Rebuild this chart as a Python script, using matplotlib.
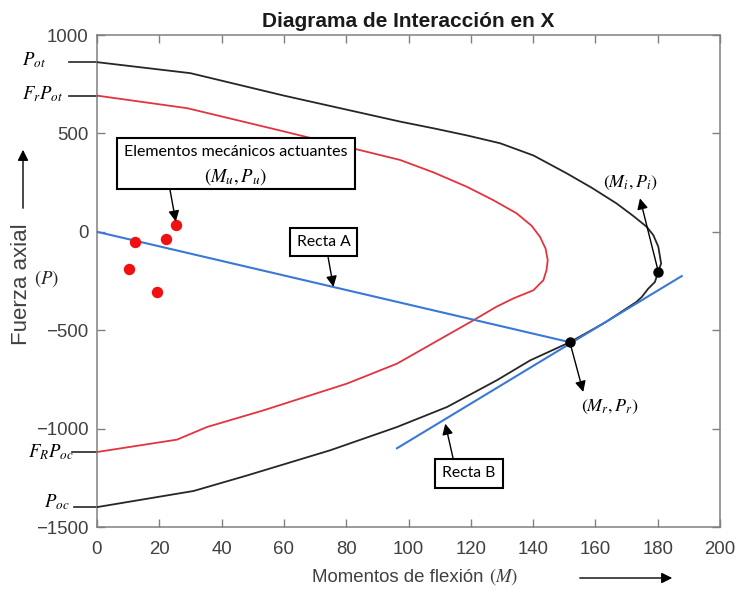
import matplotlib
matplotlib.use("Agg")
import matplotlib.pyplot as plt
import matplotlib.transforms as mtransforms
from matplotlib.patches import Rectangle, FancyArrowPatch

plt.rcParams['font.family'] = ['Liberation Sans', 'DejaVu Sans']
plt.rcParams['mathtext.fontset'] = 'stix'

# ---- data -------------------------------------------------------------
# nominal interaction curve (M, P)
nominal_m = [0, 30, 60, 97.3, 108, 118.7, 129.4, 140.1, 150.8, 158.8, 166.8,
             172.2, 176.5, 178.6, 180.2, 181.1, 180.2, 179.1, 176.9, 174.9,
             173.2, 163, 151.8, 139.1, 128.4, 112.4, 96.3, 74.9, 48.2, 31, 0]
nominal_p = [862, 806, 692, 560, 526, 490, 450, 388, 297, 224, 144,
             80, 25, -17, -76, -161, -203, -255, -290, -331,
             -356, -462, -561, -653, -754, -890, -992, -1110, -1238, -1317, -1399]

# reduced (design) interaction curve
design_m = [0, 29, 60, 97.3, 108, 118.7, 127.2, 134.7, 139.5, 142.2, 144.0,
            144.7, 144.3, 143.3, 140.1, 133.6, 128.2, 120.9, 96.3, 80.3, 53.5,
            35.3, 25.7, 0]
design_p = [692, 628, 510, 365, 302, 229, 161, 94, 31, -25, -85,
            -144, -195, -246, -297, -339, -381, -449, -670, -771, -907,
            -992, -1056, -1119]

# acting loads
demand_m = [25.3, 22.1, 12.2, 10.4, 19.2]
demand_p = [33, -37, -51, -190, -308]

# characteristic points
mi, pi = 180.2, -203
mr, pr = 151.8, -561

# straight lines
recta_a_m = [0, mr]
recta_a_p = [0, pr]
recta_b_m = [96.3, 187.7]
recta_b_p = [-1100, -225]

x_ticks = [0, 20, 40, 60, 80, 100, 120, 140, 160, 180, 200]
y_ticks = [-1500, -1000, -500, 0, 500, 1000]

black = '#262626'
red = '#e2343f'
blue = '#3b78d6'
grey_txt = '#404040'
spine_c = '#808080'

# ---- figure -----------------------------------------------------------
W, H = 735, 590
fig = plt.figure(figsize=(W / 100, H / 100), dpi=100)
ax = fig.add_axes([97 / W, 1 - 527 / H, (720 - 97) / W, (527 - 35) / H])


def fx(px):
    return px / W


def fy(py):
    return 1 - py / H


ax.plot(nominal_m, nominal_p, color=black, lw=1.3, zorder=3)
ax.plot(design_m, design_p, color=red, lw=1.3, zorder=3)
ax.plot(recta_a_m, recta_a_p, color=blue, lw=1.5, zorder=4)
ax.plot(recta_b_m, recta_b_p, color=blue, lw=1.5, zorder=4)
ax.plot(demand_m, demand_p, 'o', color='#f01010', ms=8.2, mec='none', zorder=5)
ax.plot([mi, mr], [pi, pr], 'o', color='black', ms=7.5, mec='none', zorder=6)

ax.set_xlim(x_ticks[0], x_ticks[-1])
ax.set_ylim(y_ticks[0], y_ticks[-1])
ax.set_xticks(x_ticks)
ax.set_yticks(y_ticks)
ax.tick_params(direction='in', length=6, width=1, color=spine_c,
               labelsize=13.4, labelcolor=grey_txt, top=True, right=True)
ax.tick_params(axis='x', pad=10)
ax.tick_params(axis='y', pad=6)
for s in ax.spines.values():
    s.set_color(spine_c)
    s.set_linewidth(1.1)

# ---- annotations ------------------------------------------------------
arrow = dict(arrowstyle='-|>', color='black', lw=1.0, mutation_scale=16,
             shrinkA=0, shrinkB=0)
box = dict(boxstyle='square,pad=0.45', fc='white', ec='black', lw=1.5)
box_font = ['Lato', 'DejaVu Sans']

# box for the acting loads
ax.add_patch(Rectangle((6.4, 216), 82.8 - 6.4, 475 - 216, fc='white',
                       ec='black', lw=1.5, zorder=8))
ax.text(44.6, 404, 'Elementos mecánicos actuantes', ha='center', va='center',
        fontsize=11.5, family=box_font, zorder=9)
ax.text(44.6, 282, '$(M_u, P_u)$', ha='center', va='center', fontsize=13.5,
        zorder=9)
ax.annotate('', xy=(25.3, 52), xytext=(23.4, 216), arrowprops=arrow, zorder=7)

ax.annotate('', xy=(75.9, -280), xytext=(74.2, -130), arrowprops=arrow, zorder=7)
ax.text(72.7, -50, 'Recta A', ha='center', va='center', fontsize=11.3,
        family=box_font, bbox=box, zorder=8)

ax.annotate('', xy=(111.8, -975), xytext=(114.3, -1150), arrowprops=arrow, zorder=7)
ax.text(119.4, -1228, 'Recta B', ha='center', va='center', fontsize=11.3,
        family=box_font, bbox=box, zorder=8)

ax.annotate('', xy=(174.3, 170), xytext=(mi, pi), arrowprops=arrow, zorder=7)
ax.text(171.1, 246, '$(M_i, P_i)$', ha='center', va='center', fontsize=13)

ax.annotate('', xy=(156.1, -814), xytext=(mr, pr), arrowprops=arrow, zorder=7)
ax.text(164.7, -890, '$(M_r, P_r)$', ha='center', va='center', fontsize=13)

# reference levels on the vertical axis
trans = mtransforms.blended_transform_factory(ax.transAxes, ax.transData)
levels = [
    (nominal_p[0], '$P_{ot}$', 69, 34, 12),
    (design_p[0], '$F_r P_{ot}$', 69, 43, 6),
    (design_p[-1], '$F_R P_{oc}$', 72, 51, 0),
    (nominal_p[-1], '$P_{oc}$', 74, 57, 25),
]
for val, lab, x0, xc, dy in levels:
    ax.plot([(x0 - 97) / 623, 0], [val, val], color=black, lw=1.2,
            transform=trans, clip_on=False)
    ax.text((xc - 97) / 623, val + dy, lab, transform=trans, ha='center',
            va='center', fontsize=13.5, clip_on=False)

# ---- titles and axis labels -------------------------------------------
fig.text(fx(408.5), fy(26.7), 'Diagrama de Interacción en X', ha='center',
         va='baseline', fontsize=15, fontweight='bold',
         family=['Liberation Sans Narrow', 'Liberation Sans'], color='#1a1a1a')

fig.text(fx(312), fy(582), 'Momentos de flexión', ha='left', va='baseline',
         fontsize=13.4, color=grey_txt)
fig.text(fx(489), fy(582), '$(M)$', ha='left', va='baseline', fontsize=13.5,
         color=grey_txt)
fig.text(fx(22), fy(284), 'Fuerza axial', ha='center', va='center',
         rotation=90, fontsize=16, color=grey_txt)
fig.text(fx(47), fy(279), '$(P)$', ha='center', va='center', fontsize=13.5,
         color=black)

fig.add_artist(FancyArrowPatch(
    (fx(577), fy(578)), (fx(675), fy(578)), transform=fig.transFigure,
    arrowstyle='-|>', mutation_scale=16, color='black', lw=1.0))
fig.add_artist(FancyArrowPatch(
    (fx(23), fy(211)), (fx(23), fy(147)), transform=fig.transFigure,
    arrowstyle='-|>', mutation_scale=16, color='black', lw=1.0))

fig.savefig('out.png', dpi=100)
